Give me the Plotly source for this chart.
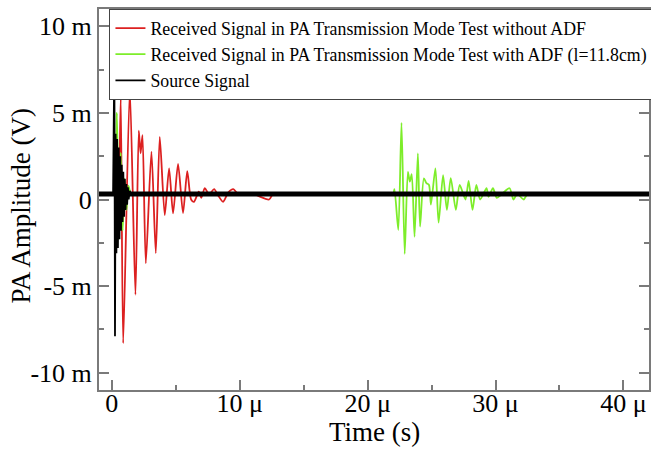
import plotly.graph_objects as go

# ---- data (time in microseconds, amplitude in millivolts) ----
red_t = [-1.0, 0.0, 0.3, 0.5, 0.7, 0.89, 1.41, 1.85, 2.11, 2.25, 2.4, 2.66, 3.1, 3.44, 3.75,
         4.14, 4.48, 4.79, 5.18, 5.57, 5.9, 6.2, 6.43, 6.8, 7.0, 7.27, 7.6, 8.0, 8.3, 8.7,
         9.1, 9.5, 9.9, 11.0, 12.3, 12.6, 13.0, 42.0]
red_v = [0.32, 0.32, 0.32, -1.5, 5.93, -8.3, 6.36, -5.5, 3.97, 2.67, 3.72, -3.68, 2.76, -3.1, 3.62,
         -0.9, 1.8, -0.8, 2.05, -0.78, 1.64, 0.0, -0.13, 0.45, 0.1, 0.66, 0.3, 0.6, 0.25, -0.13,
         0.4, 0.6, 0.3, 0.32, 0.0, 0.32, 0.32, 0.32]

green_t = [-1.0, -0.1, 0.15, 0.4, 0.55, 0.7, 0.85, 1.0, 1.15, 1.3, 1.5, 1.8, 21.7, 22.0, 22.1,
           22.4, 22.65, 22.9, 23.15, 23.3, 23.45, 23.67, 23.93, 24.1, 24.4, 24.6, 24.8, 24.95,
           25.3, 25.55, 25.9, 26.2, 26.5, 26.9, 27.2, 27.65, 27.9, 28.2, 28.5, 28.8, 29.3,
           29.45, 29.8, 30.1, 30.5, 31.1, 31.4, 31.7, 32.2, 32.5, 33.0, 42.0]
green_v = [0.32, 0.32, 0.32, 5.0, -2.3, 2.7, -1.8, 1.2, -0.6, 0.8, 0.32, 0.32, 0.32, 0.32, 0.6,
           -1.76, 4.43, -3.14, 1.6, 1.03, 1.47, -2.15, 2.66, -1.57, 1.22, 0.95, 0.84, -0.3,
           1.8, -1.34, 1.41, -0.6, 1.24, -0.6, 0.84, 0.0, 1.08, -0.6, 0.84, 0.0, 0.65,
           0.16, 0.65, 0.1, 0.32, 0.65, 0.0, 0.32, 0.0, 0.32, 0.32, 0.32]

black_t = [0.1, 0.2, 0.25, 0.3, 0.36, 0.42, 0.48, 0.54, 0.6, 0.66, 0.72, 0.78, 0.84, 0.9,
           0.96, 1.02, 1.08, 1.14, 1.2, 1.26, 1.32, 1.4, 1.5]
black_v = [0.32, 8.2, -7.9, 3.8, -3.1, 3.5, -2.8, 3.0, -2.3, 2.5, -1.8, 2.0, -1.3, 1.6,
           -1.0, 1.2, -0.6, 0.9, -0.3, 0.7, 0.0, 0.5, 0.32]
black_base_t = [-1.0, 42.0]
black_base_v = [0.32, 0.32]

x_tickvals = [0, 10, 20, 30, 40]
x_ticktext = ["0", "10 μ", "20 μ", "30 μ", "40 μ"]
x_minor = [5, 15, 25, 35]
y_tickvals = [-10, -5, 0, 5, 10]
y_ticktext = ["-10 m", "-5 m", "0", "5 m", "10 m"]
y_minor = [-7.5, -2.5, 2.5, 7.5]

names = ["Received Signal in PA Transmission Mode Test without ADF",
         "Received Signal in PA Transmission Mode Test with ADF (l=11.8cm)",
         "Source Signal"]
x_title = "Time (s)"
y_title = "PA Amplitude (V)"

FONT = "Liberation Serif, Times New Roman, serif"
AXC = "#7a7a7a"

fig = go.Figure()
fig.add_trace(go.Scatter(x=red_t, y=red_v, mode="lines", name=names[0],
                         line=dict(color="#dc2020", width=1.8, shape="spline", smoothing=0.7)))
fig.add_trace(go.Scatter(x=green_t, y=green_v, mode="lines", name=names[1],
                         line=dict(color="#7ded2a", width=1.8, shape="spline", smoothing=0.7)))
fig.add_trace(go.Scatter(x=black_base_t, y=black_base_v, mode="lines", name=names[2],
                         legendgroup="src", showlegend=False,
                         line=dict(color="black", width=5)))
fig.add_trace(go.Scatter(x=black_t, y=black_v, mode="lines", name=names[2],
                         legendgroup="src", line=dict(color="black", width=1.8)))

axis_common = dict(showgrid=False, zeroline=False, showline=True, linecolor=AXC,
                   linewidth=2, mirror="ticks", ticks="inside", ticklen=10,
                   tickwidth=1.5, tickcolor=AXC,
                   tickfont=dict(family=FONT, size=26, color="black"))

fig.update_xaxes(range=[-1, 42], tickmode="array", tickvals=x_tickvals, ticktext=x_ticktext,
                 minor=dict(tickmode="array", tickvals=x_minor, ticks="inside", ticklen=5,
                            tickwidth=1.5, tickcolor=AXC),
                 ticklabelstandoff=-11,
                 **axis_common)
fig.update_yaxes(range=[-11, 11], tickmode="array", tickvals=y_tickvals, ticktext=y_ticktext,
                 minor=dict(tickmode="array", tickvals=y_minor, ticks="inside", ticklen=5,
                            tickwidth=1.5, tickcolor=AXC),
                 **axis_common)

fig.add_annotation(text=x_title, xref="paper", yref="paper", x=0.5, y=-0.11,
                   xanchor="center", yanchor="middle", showarrow=False,
                   font=dict(family=FONT, size=27, color="black"))
fig.add_annotation(text=y_title, xref="paper", yref="paper", x=-0.1418, y=0.484,
                   xanchor="center", yanchor="middle", showarrow=False, textangle=-90,
                   font=dict(family=FONT, size=27, color="black"))

fig.update_layout(
    width=651, height=452,
    margin=dict(l=99, r=2, t=9, b=62, autoexpand=False),
    paper_bgcolor="white", plot_bgcolor="white",
    font=dict(family=FONT, color="black"),
    legend=dict(x=0.019, y=1, xanchor="left", yanchor="top",
                bordercolor="#444444", borderwidth=1, bgcolor="white",
                font=dict(family=FONT, size=17.8, color="black"),
                tracegroupgap=0, itemwidth=30),
)

fig.write_html("out.html", config={"displayModeBar": False},
               post_script="document.body.style.margin='0px';")
